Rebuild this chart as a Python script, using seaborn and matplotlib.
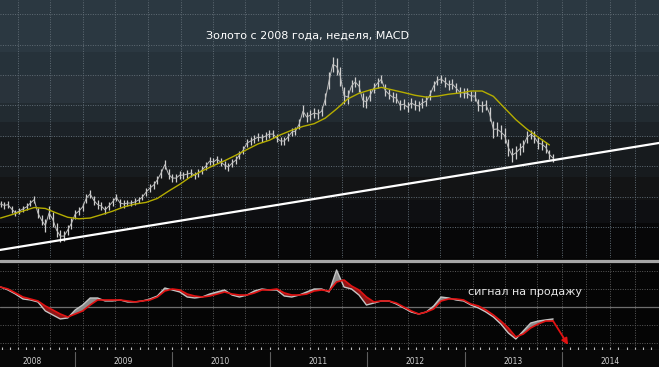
import numpy as np
import pandas as pd
import matplotlib
matplotlib.use("Agg")
import matplotlib.pyplot as plt
import matplotlib.dates as mdates
from matplotlib.colors import to_rgb
import seaborn as sns

# ------------------------------------------------------------
# data read off the chart (gold, weekly, sampled every 2 weeks)
# ------------------------------------------------------------
bar_low = [930, 920, 925, 895, 870, 885, 898, 910, 935, 955,
           860, 810, 770, 850, 800, 735, 700, 705, 745, 790,
           855, 880, 905, 960, 990, 945, 920, 910, 885, 910,
           940, 970, 932, 928, 935, 935, 942, 955, 975, 1005,
           1030, 1052, 1085, 1125, 1180, 1115, 1095, 1095, 1115, 1118,
           1125, 1130, 1118, 1130, 1150, 1175, 1205, 1200, 1220, 1200,
           1180, 1170, 1195, 1215, 1248, 1280, 1325, 1340, 1352, 1366,
           1360, 1372, 1385, 1385, 1358, 1340, 1340, 1365, 1398, 1405,
           1445, 1525, 1490, 1505, 1520, 1512, 1530, 1600, 1710, 1820,
           1800, 1730, 1610, 1610, 1690, 1720, 1690, 1590, 1580, 1630,
           1680, 1715, 1745, 1660, 1640, 1620, 1615, 1570, 1575, 1555,
           1585, 1570, 1565, 1585, 1598, 1635, 1695, 1735, 1748, 1720,
           1700, 1708, 1680, 1655, 1650, 1648, 1628, 1630, 1565, 1560,
           1570, 1500, 1385, 1400, 1380, 1355, 1265, 1225, 1245, 1275,
           1295, 1350, 1380, 1352, 1315, 1310, 1290, 1245, 1225]

bar_high = [972, 965, 968, 940, 915, 925, 940, 955, 980, 1005,
            925, 880, 850, 935, 900, 825, 780, 775, 815, 860,
            915, 930, 960, 1020, 1045, 1005, 975, 965, 940, 965,
            990, 1020, 985, 975, 980, 980, 988, 1000, 1020, 1055,
            1082, 1100, 1135, 1185, 1240, 1180, 1150, 1148, 1168, 1165,
            1172, 1180, 1165, 1180, 1200, 1228, 1262, 1255, 1270, 1255,
            1235, 1220, 1245, 1265, 1300, 1332, 1380, 1392, 1405, 1418,
            1412, 1425, 1438, 1438, 1412, 1392, 1392, 1418, 1450, 1458,
            1510, 1600, 1558, 1568, 1580, 1575, 1595, 1685, 1820, 1920,
            1915, 1855, 1720, 1700, 1765, 1790, 1765, 1680, 1665, 1705,
            1750, 1780, 1800, 1740, 1710, 1690, 1682, 1635, 1642, 1622,
            1648, 1635, 1628, 1648, 1660, 1702, 1760, 1795, 1800, 1788,
            1768, 1775, 1750, 1720, 1715, 1712, 1695, 1695, 1640, 1632,
            1638, 1590, 1500, 1490, 1470, 1450, 1380, 1320, 1330, 1350,
            1370, 1430, 1440, 1430, 1390, 1380, 1360, 1310, 1280]

# moving average (yellow), every 6 weeks
ma_values = [859, 881, 905, 928, 922, 892, 864, 854, 859, 881,
             904, 932, 951, 962, 988, 1036, 1081, 1132, 1169, 1204,
             1236, 1272, 1310, 1347, 1371, 1407, 1437, 1462, 1480, 1517,
             1577, 1643, 1680, 1702, 1719, 1702, 1685, 1667, 1655, 1661,
             1674, 1682, 1695, 1695, 1660, 1583, 1507, 1444, 1391, 1340]

# MACD and signal, every 4 weeks
macd_line = [22.2, 18.9, 14.4, 8.9, 7.8, 5.6, -4.4, -8.9, -13.3, -12.2,
             -3.3, 2.2, 10.0, 10.0, 6.7, 6.7, 7.8, 5.6, 5.6, 6.7,
             8.9, 12.2, 21.1, 18.9, 16.7, 11.1, 10.0, 11.1, 14.4, 16.7,
             18.9, 13.3, 11.1, 13.3, 17.8, 20.0, 18.9, 18.9, 12.2, 11.1,
             13.3, 16.7, 20.0, 20.0, 16.7, 41.1, 22.2, 20.0, 13.3, 2.2,
             4.4, 6.7, 6.7, 3.3, -1.1, -5.6, -7.8, -5.6, 1.1, 11.1,
             10.0, 7.8, 6.7, 2.2, -1.1, -5.6, -11.1, -18.9, -28.9, -35.6,
             -26.7, -17.8, -15.6, -14.4, -13.3]

signal_line = [22.2, 20.0, 15.6, 11.1, 8.9, 6.7, 1.1, -3.3, -7.8, -11.1,
               -7.8, -4.4, 2.2, 7.8, 7.8, 7.8, 7.8, 6.7, 5.6, 6.7,
               7.8, 11.1, 17.8, 20.0, 18.9, 14.4, 12.2, 11.1, 12.2, 14.4,
               16.7, 14.4, 13.3, 13.3, 15.6, 18.9, 18.9, 20.0, 15.6, 13.3,
               13.3, 14.4, 17.8, 18.9, 17.8, 27.8, 30.0, 23.3, 18.9, 11.1,
               5.6, 6.7, 6.7, 4.4, 0.0, -4.4, -7.8, -5.6, -2.2, 6.7,
               8.9, 8.9, 7.8, 3.3, 1.1, -3.3, -8.9, -15.6, -23.3, -33.3,
               -30.0, -23.3, -18.9, -15.6, -15.6]

trend_dates = ["2008-03-26", "2014-12-31"]
trend_prices = [649, 1353]

arrow_dates = ["2013-11-29", "2014-01-24"]
arrow_values = [-15.6, -42.0]

year_labels = ["2008", "2009", "2010", "2011", "2012", "2013", "2014"]
year_label_dates = ["2008-07-25", "2009-07-01", "2010-07-01", "2011-07-01",
                    "2012-07-01", "2013-07-01", "2014-07-01"]

title = "Золото с 2008 года, неделя, MACD"
note = "сигнал на продажу"

bar_dates = pd.date_range("2008-03-28", periods=len(bar_low), freq="14D")
ma_dates = pd.date_range("2008-03-28", periods=len(ma_values), freq="42D")
macd_dates = pd.date_range("2008-03-28", periods=len(macd_line), freq="28D")

# ------------------------------------------------------------
# layout
# ------------------------------------------------------------
sns.set_style("dark")
plt.rcParams["font.family"] = ["DejaVu Sans"]

W, H = 659, 367
fig = plt.figure(figsize=(W / 100, H / 100), dpi=100)
fig.patch.set_facecolor("#050505")

xmin, xmax = pd.Timestamp("2008-03-26"), pd.Timestamp("2014-12-31")

top_rect = [0, 109 / H, 1, 258 / H]
bg = fig.add_axes(top_rect, zorder=0)
ax = fig.add_axes(top_rect, zorder=1)
ax2 = fig.add_axes([0, 17 / H, 1, 88 / H])
strip = fig.add_axes([0, 0, 1, 17 / H])

# stepped dark gradient behind the price panel
band_px = [52, 23, 28, 19, 15, 40, 23, 23, 35]
band_col = ["#2b3841", "#26323a", "#29333b", "#222b31", "#1c2227",
            "#171b1e", "#131415", "#0e0f12", "#070708"]
img = np.repeat(np.array([to_rgb(c) for c in band_col]), band_px, axis=0)[:, None, :]
bg.imshow(img, aspect="auto", interpolation="nearest", extent=[0, 1, 0, 1])
bg.set_axis_off()

# ---------------- price panel ----------------
ax.set_facecolor("none")
lo = np.array(bar_low)
hi = np.array(bar_high)
mid = (lo + hi) / 2
ax.vlines(bar_dates, lo, hi, color="#cfcfcf", lw=0.9, zorder=3)
ax.plot(bar_dates, mid, color="#bdbdbd", lw=0.7, zorder=3)
sns.lineplot(x=ma_dates, y=ma_values, ax=ax, color="#b5ad00", lw=1.0, zorder=4)
sns.lineplot(x=pd.to_datetime(trend_dates), y=trend_prices, ax=ax,
             color="white", lw=1.6, zorder=5)

ax.set_xlim(xmin, xmax)
ax.set_ylim(596, 2294)

grid_dates = [d for d in pd.date_range("2008-06-01", "2013-10-01", freq="MS")
              if d.month in (2, 6, 10)]
grid_dates += list(pd.to_datetime(["2014-01-01", "2014-04-01", "2014-07-01", "2014-10-01"]))

for d in grid_dates:
    ax.axvline(d, color="#606c75", lw=0.7, ls=(0, (1, 1.5)), zorder=1)
for p in range(800, 2300, 200):
    ax.axhline(p, color="#606c75", lw=0.7, ls=(0, (1, 1.5)), zorder=1)

ax.set_xticks([])
ax.set_yticks([])
ax.set_xlabel("")
ax.set_ylabel("")
for s in ax.spines.values():
    s.set_visible(False)

fig.text(307.5 / W, 1 - 36 / H, title, color="white", fontsize=8,
         ha="center", va="center")

# separator between panels
fig.add_artist(plt.Line2D([0, 1], [1 - 260.5 / H] * 2, color="#a6a6a6", lw=2.3))

# ---------------- MACD panel ----------------
ax2.set_facecolor("#050505")
macd = np.array(macd_line)
sig = np.array(signal_line)
ax2.fill_between(macd_dates, macd, sig, where=macd >= sig, interpolate=True,
                 color="#8c8c8c", lw=0, zorder=2)
ax2.fill_between(macd_dates, macd, sig, where=macd < sig, interpolate=True,
                 color="#8e1616", lw=0, zorder=2)
sns.lineplot(x=macd_dates, y=macd_line, ax=ax2, color="#c4c4c4", lw=1.0, zorder=3)
sns.lineplot(x=macd_dates, y=signal_line, ax=ax2, color="#e01212", lw=1.2, zorder=4)

ad = pd.to_datetime(arrow_dates)
ax2.annotate("", xy=(ad[1], arrow_values[1]), xytext=(ad[0], arrow_values[0]),
             arrowprops=dict(arrowstyle="-|>", color="#e01212", lw=1.3,
                             mutation_scale=9, shrinkA=0, shrinkB=0), zorder=5)

ax2.text(pd.Timestamp("2013-08-17"), 16.7, note, color="#e6e6e6", fontsize=8,
         ha="center", va="center")

ax2.set_xlim(xmin, xmax)
ax2.set_ylim(-47.8, 50)
for d in grid_dates:
    ax2.axvline(d, color="#5a5a5a", lw=0.7, ls=(0, (1, 1.5)), zorder=1)
for v in (-40, -20, 20, 40):
    ax2.axhline(v, color="#5a5a5a", lw=0.7, ls=(0, (1, 1.5)), zorder=1)
ax2.axhline(0, color="#6e6e6e", lw=0.9, zorder=1)

ax2.set_xticks([])
ax2.set_yticks([])
ax2.xaxis.set_minor_locator(mdates.MonthLocator())
ax2.tick_params(axis="x", which="minor", direction="in", length=2,
                color="#bdbdbd", width=0.8, bottom=True)
ax2.set_xlabel("")
ax2.set_ylabel("")
for k, s in ax2.spines.items():
    s.set_visible(k == "bottom")
ax2.spines["bottom"].set_color("#8a8a8a")
ax2.spines["bottom"].set_linewidth(0.8)

# ---------------- year strip ----------------
strip.set_facecolor("#070707")
strip.set_xlim(xmin, xmax)
strip.set_ylim(0, 1)
for y in range(2009, 2015):
    strip.axvline(pd.Timestamp(f"{y}-01-01"), ymin=0, ymax=0.88, color="#5e5e5e", lw=0.8)
for lab, d in zip(year_labels, year_label_dates):
    strip.text(pd.Timestamp(d), 0.3, lab, color="#cfcfcf", fontsize=5.5,
               ha="center", va="center")
strip.set_xticks([])
strip.set_yticks([])
for s in strip.spines.values():
    s.set_visible(False)

fig.savefig("out.png", dpi=100, facecolor=fig.get_facecolor())
